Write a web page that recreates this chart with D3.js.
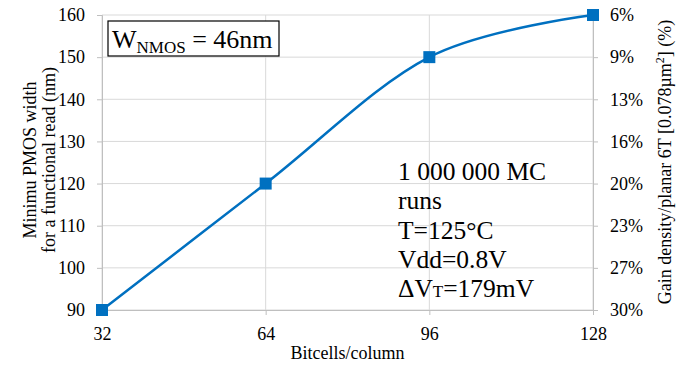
<!DOCTYPE html>
<html>
<head>
<meta charset="utf-8">
<script src="https://cdn.jsdelivr.net/npm/d3@7"></script>
<style>
  body { margin: 0; background: #fff; }
  svg text { font-family: "Liberation Serif", "Times New Roman", serif; fill: #000; }
</style>
</head>
<body>
<svg id="chart" width="684" height="366" font-family="Liberation Serif"></svg>
<script>
// data
const bitcells = [32, 64, 96, 128];
const pmosWidth = [90, 120, 150, 160];
const leftTicks = [90, 100, 110, 120, 130, 140, 150, 160];
const rightLabels = ["30%", "27%", "23%", "20%", "16%", "13%", "9%", "6%"];
const noteLines = ["1 000 000 MC", "runs", "T=125°C", "Vdd=0.8V"];

const plotL = 102, plotR = 593, plotT = 15, plotB = 310;
const serif = 'Liberation Serif';

const svg = d3.select('#chart');

const x = d3.scalePoint().domain(bitcells).range([plotL, plotR]);
const y = d3.scaleLinear().domain([90, 160]).range([plotB, plotT]);

// gridlines
svg.append('g').selectAll('line').data(leftTicks).enter().append('line')
  .attr('x1', plotL).attr('x2', plotR)
  .attr('y1', d => y(d)).attr('y2', d => y(d))
  .attr('stroke', '#d9d9d9').attr('stroke-width', 1);
svg.append('g').selectAll('line').data(bitcells).enter().append('line')
  .attr('x1', d => x(d)).attr('x2', d => x(d))
  .attr('y1', plotT).attr('y2', plotB)
  .attr('stroke', '#d9d9d9').attr('stroke-width', 1);

function styleAxis(g) {
  g.attr('font-family', serif).attr('font-size', 18);
  g.select('.domain').attr('stroke', '#bfbfbf');
  g.selectAll('.tick line').attr('stroke', '#bfbfbf');
  g.selectAll('text').attr('font-size', 18).attr('font-family', serif).attr('fill', '#000');
}

// left axis
const yAxis = svg.append('g').attr('transform', `translate(${plotL},0)`)
  .call(d3.axisLeft(y).tickValues(leftTicks).tickSize(5).tickPadding(12));
styleAxis(yAxis);

// right axis
const yRight = d3.scalePoint().domain(rightLabels).range([plotB, plotT]);
const rAxis = svg.append('g').attr('transform', `translate(${plotR},0)`)
  .call(d3.axisRight(yRight).tickSize(5).tickPadding(12));
styleAxis(rAxis);

// bottom axis
const xAxis = svg.append('g').attr('transform', `translate(0,${plotB})`)
  .call(d3.axisBottom(x).tickSize(5).tickPadding(12));
styleAxis(xAxis);
xAxis.selectAll('.tick line').filter(d => d === bitcells[0]).remove();

// axis titles
svg.append('text').attr('x', (plotL + plotR) / 2).attr('y', 359)
  .attr('text-anchor', 'middle').attr('font-size', 18).attr('font-family', serif)
  .text('Bitcells/column');

const lt = svg.append('text').attr('transform', 'translate(0,160) rotate(-90)')
  .attr('text-anchor', 'middle').attr('font-size', 18).attr('font-family', serif);
lt.append('tspan').attr('x', 0).attr('y', 36).text('Minimu PMOS width');
lt.append('tspan').attr('x', 0).attr('y', 55).text('for a functional read (nm)');

const rt = svg.append('text').attr('transform', 'translate(671,162) rotate(-90)')
  .attr('text-anchor', 'middle').attr('font-size', 18).attr('font-family', serif);
rt.append('tspan').text('Gain density/planar 6T [0.078µm');
rt.append('tspan').attr('font-size', 12).attr('dy', -7).text('2');
rt.append('tspan').attr('dy', 7).text('] (%)');

// line
const pts = bitcells.map((b, i) => [x(b), y(pmosWidth[i])]);
svg.append('path').datum(pts)
  .attr('d', d3.line().curve(d3.curveCardinal.tension(0)))
  .attr('fill', 'none').attr('stroke', '#0070c0').attr('stroke-width', 2.5);

svg.append('g').selectAll('rect').data(pts).enter().append('rect')
  .attr('x', d => d[0] - 6).attr('y', d => d[1] - 6)
  .attr('width', 12).attr('height', 12).attr('fill', '#0070c0');

// legend box
svg.append('rect').attr('x', 108).attr('y', 21).attr('width', 171).attr('height', 35)
  .attr('fill', '#fff').attr('stroke', '#000').attr('stroke-width', 1.2);
const lg = svg.append('text').attr('x', 112).attr('y', 48).attr('font-size', 26)
  .attr('font-family', serif);
lg.append('tspan').text('W');
lg.append('tspan').attr('font-size', 17).attr('dy', 5).text('NMOS');
lg.append('tspan').attr('dy', -5).text(' = 46nm');

// annotation
const note = svg.append('text').attr('font-size', 25.5).attr('font-family', serif);
noteLines.forEach((s, i) => {
  note.append('tspan').attr('x', 398).attr('y', 180 + i * 29.3).text(s);
});
const last = note.append('tspan').attr('x', 398).attr('y', 180 + 4 * 29.3);
last.append('tspan').text('ΔV');
last.append('tspan').attr('font-size', 17).text('T');
last.append('tspan').text('=179mV');
</script>
</body>
</html>
